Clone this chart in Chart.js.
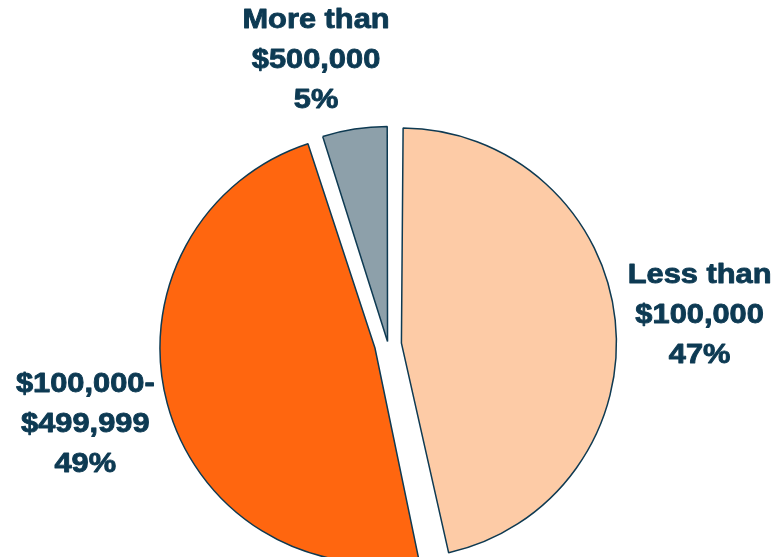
<!DOCTYPE html>
<html>
<head>
<meta charset="utf-8">
<script src="https://cdn.jsdelivr.net/npm/chart.js@4.4.1/dist/chart.umd.min.js"></script>
<style>
  html, body { margin: 0; padding: 0; background: #ffffff; }
  #wrap { width: 775px; height: 557px; }
</style>
</head>
<body>
<div id="wrap"><canvas id="chart" width="775" height="557"></canvas></div>
<script>
'use strict';

// slices, clockwise from 12 o'clock
const categories = ['Less than $100,000', '$100,000-$499,999', 'More than $500,000'];
const labelLines = [['Less than', '$100,000'], ['$100,000-', '$499,999'], ['More than', '$500,000']];
const shares = [46.6, 48.5, 4.9];

const sliceColors = ['#FDCBA6', '#FF660F', '#8DA0AA'];
const edgeColor = '#0E3A52';
const textColor = '#0D3A53';

// how far each slice is pulled out (px of translation)
const explode = [13.5, 13.5, 3];

// Chart.js grows exploded arcs a bit (offset * (1 - sin(circumference))),
// pull outerRadius back so every slice keeps the same radius
const evenRadius = {
  id: 'evenRadius',
  afterDatasetUpdate(chart, args) {
    args.meta.data.forEach((arc) => {
      const o = (arc.options.offset || 0) / 4;
      const fix = 1 - Math.sin(Math.min(Math.PI, arc.circumference || 0));
      arc.outerRadius -= o * fix;
    });
  }
};

// outside-end labels, Excel style
const sliceLabels = {
  id: 'sliceLabels',
  afterDatasetsDraw(chart, args, opts) {
    const ctx = chart.ctx;
    const meta = chart.getDatasetMeta(0);
    ctx.save();
    ctx.font = 'bold 28px "Liberation Sans", Arial, sans-serif';
    ctx.fillStyle = textColor;
    ctx.strokeStyle = textColor;
    ctx.lineWidth = 0.9;
    ctx.lineJoin = 'round';
    ctx.textAlign = 'center';
    ctx.textBaseline = 'middle';
    meta.data.forEach((arc, i) => {
      const p = arc.getProps(['x', 'y', 'startAngle', 'endAngle']);
      const mid = (p.startAngle + p.endAngle) / 2 + opts.nudge[i] * Math.PI / 180;
      const dist = opts.radius + opts.extra[i];
      const cx = p.x + Math.cos(mid) * dist;
      const cy = p.y + Math.sin(mid) * dist;
      const lines = labelLines[i].concat([Math.round(shares[i]) + '%']);
      const top = cy - (lines.length - 1) * opts.lineHeight / 2;
      lines.forEach((line, k) => {
        ctx.save();
        ctx.translate(cx, top + k * opts.lineHeight);
        ctx.scale(1.1, 1);
        ctx.fillText(line, 0, 0);
        ctx.strokeText(line, 0, 0);
        ctx.restore();
      });
    });
    ctx.restore();
  }
};

const pieRadius = 215;

new Chart(document.getElementById('chart'), {
  type: 'pie',
  data: {
    labels: categories,
    datasets: [{
      data: shares,
      backgroundColor: sliceColors,
      borderColor: edgeColor,
      borderWidth: 1.5,
      offset: explode.map((d) => d * 4),
      clip: false
    }]
  },
  options: {
    responsive: false,
    animation: false,
    radius: pieRadius,
    layout: { padding: { top: 132, bottom: 0, left: 1, right: 0 } },
    plugins: {
      legend: { display: false },
      tooltip: { enabled: false },
      title: { display: false },
      sliceLabels: {
        radius: pieRadius,
        extra: [98, 98, 78],
        nudge: [0.7, 0.2, -5.4],
        lineHeight: 40
      }
    }
  },
  plugins: [evenRadius, sliceLabels]
});
</script>
</body>
</html>
